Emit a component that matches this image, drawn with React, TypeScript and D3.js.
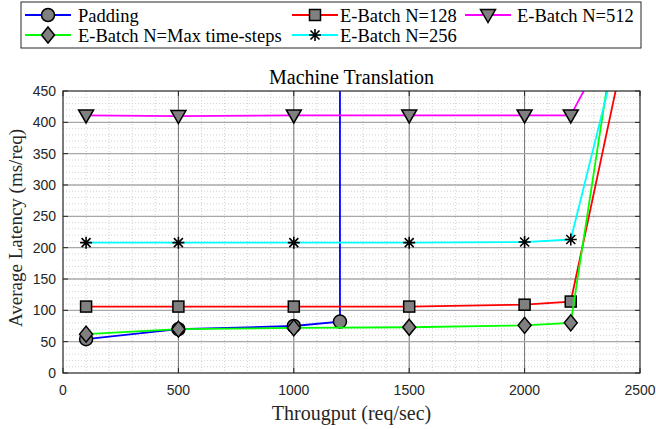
import * as d3 from "d3";

// Throughput (req/sec) sampled for the E-Batch runs; last point is off the top of the axes
const ebatchX = [100, 500, 1000, 1500, 2000, 2200, 2400];
const paddingX = [100, 500, 1000, 1200, 1200];

// Average latency (ms/req)
const paddingY = [54, 70, 75, 82, 700];
const batch128Y = [106, 106, 106, 106, 109, 114, 460];
const batch512Y = [411, 410, 411, 411, 411, 411, 550];
const batchMaxY = [62, 70, 72, 73, 76, 80, 560];
const batch256Y = [208, 208, 208, 208, 209, 213, 510];

const xTicks = [0, 500, 1000, 1500, 2000, 2500];
const yTicks = [0, 50, 100, 150, 200, 250, 300, 350, 400, 450];

type Marker = "circle" | "square" | "triangle" | "diamond" | "star";
interface Series {
  name: string;
  color: string;
  marker: Marker;
  xs: number[];
  ys: number[];
}

// plotting order (also legend order, row-wise)
const series: Series[] = [
  { name: "Padding", color: "#0000ff", marker: "circle", xs: paddingX, ys: paddingY },
  { name: "E-Batch N=128", color: "#ff0000", marker: "square", xs: ebatchX, ys: batch128Y },
  { name: "E-Batch N=512", color: "#ff00ff", marker: "triangle", xs: ebatchX, ys: batch512Y },
  { name: "E-Batch N=Max time-steps", color: "#00ff00", marker: "diamond", xs: ebatchX, ys: batchMaxY },
  { name: "E-Batch N=256", color: "#00ffff", marker: "star", xs: ebatchX, ys: batch256Y },
];

const serif = "'Liberation Serif', 'Times New Roman', serif";
const sans = "'Liberation Sans', Arial, sans-serif";

function MarkerShape({ kind, x, y }: { kind: Marker; x: number; y: number }) {
  const fill = "#808080";
  const st = { stroke: "#000", strokeWidth: 1.5 };
  switch (kind) {
    case "circle":
      return <circle cx={x} cy={y} r={6.5} fill={fill} {...st} />;
    case "square":
      return <rect x={x - 5.5} y={y - 5.5} width={11} height={11} fill={fill} {...st} />;
    case "triangle":
      return <path d={`M${x - 7.5},${y - 5.5}L${x + 7.5},${y - 5.5}L${x},${y + 7.5}Z`} fill={fill} {...st} />;
    case "diamond":
      return <path d={`M${x},${y - 8}L${x + 6.5},${y}L${x},${y + 8}L${x - 6.5},${y}Z`} fill={fill} {...st} />;
    case "star":
      return (
        <path
          d={`M${x - 6},${y}L${x + 6},${y}M${x},${y - 6}L${x},${y + 6}M${x - 4.5},${y - 4.5}L${x + 4.5},${y + 4.5}M${x - 4.5},${y + 4.5}L${x + 4.5},${y - 4.5}`}
          fill="none"
          stroke="#000"
          strokeWidth={1.6}
        />
      );
  }
}

export default function App() {
  const width = 656;
  const height = 429;
  const left = 63, right = 640, top = 91, bottom = 373;

  const x = d3.scaleLinear().domain([0, 2500]).range([left, right]);
  const y = d3.scaleLinear().domain([0, 450]).range([bottom, top]);

  const minorX = d3.range(0, 2501, 100).filter((v) => v % 500 !== 0);
  const minorY = d3.range(0, 451, 10).filter((v) => v % 50 !== 0);

  const line = (s: Series) =>
    d3.line<number>().x((_, i) => x(s.xs[i])).y((v) => y(v))(s.ys) ?? "";

  // legend layout: [series index, line start, text x, row]
  const legendItems: [number, number, number, number][] = [
    [0, 25, 78, 0],
    [1, 292, 340, 0],
    [2, 465, 517, 0],
    [3, 25, 78, 1],
    [4, 292, 340, 1],
  ];
  const rowY = [15, 35];

  return (
    <svg width={width} height={height} style={{ position: "absolute", left: 0, top: 0, background: "#fff" }}>
      <defs>
        <clipPath id="plotClip">
          <rect x={left} y={top} width={right - left} height={bottom - top} />
        </clipPath>
      </defs>

      {/* minor grid */}
      {minorX.map((v) => (
        <line key={"mx" + v} x1={x(v)} x2={x(v)} y1={top} y2={bottom} stroke="#c8c8c8" strokeWidth={0.8} strokeDasharray="1 2" />
      ))}
      {minorY.map((v) => (
        <line key={"my" + v} x1={left} x2={right} y1={y(v)} y2={y(v)} stroke="#c8c8c8" strokeWidth={0.8} strokeDasharray="1 2" />
      ))}
      {/* major grid */}
      {xTicks.slice(1, -1).map((v) => (
        <line key={"gx" + v} x1={x(v)} x2={x(v)} y1={top} y2={bottom} stroke="#707070" strokeWidth={1} />
      ))}
      {yTicks.slice(1, -1).map((v) => (
        <line key={"gy" + v} x1={left} x2={right} y1={y(v)} y2={y(v)} stroke="#a8a8a8" strokeWidth={1.3} />
      ))}

      {/* data */}
      <g clipPath="url(#plotClip)">
        {series.map((s) => (
          <g key={s.name}>
            <path d={line(s)} fill="none" stroke={s.color} strokeWidth={1.8} />
            {s.ys.map((v, i) => (
              <MarkerShape key={i} kind={s.marker} x={x(s.xs[i])} y={y(v)} />
            ))}
          </g>
        ))}
      </g>

      {/* axes box and ticks */}
      <rect x={left} y={top} width={right - left} height={bottom - top} fill="none" stroke="#262626" strokeWidth={1.2} />
      {xTicks.map((v) => (
        <g key={"tx" + v}>
          <line x1={x(v)} x2={x(v)} y1={bottom} y2={bottom - 5} stroke="#262626" />
          <line x1={x(v)} x2={x(v)} y1={top} y2={top + 5} stroke="#262626" />
          <text x={x(v)} y={395} textAnchor="middle" fontFamily={sans} fontSize={14} fill="#262626">
            {v}
          </text>
        </g>
      ))}
      {yTicks.map((v) => (
        <g key={"ty" + v}>
          <line x1={left} x2={left + 5} y1={y(v)} y2={y(v)} stroke="#262626" />
          <line x1={right} x2={right - 5} y1={y(v)} y2={y(v)} stroke="#262626" />
          <text x={56} y={y(v) + 5} textAnchor="end" fontFamily={sans} fontSize={14} fill="#262626">
            {v}
          </text>
        </g>
      ))}

      {/* labels */}
      <text x={(left + right) / 2} y={84} textAnchor="middle" fontFamily={serif} fontSize={20} fill="#000">
        Machine Translation
      </text>
      <text x={(left + right) / 2} y={420} textAnchor="middle" fontFamily={serif} fontSize={20} fill="#262626">
        Througput (req/sec)
      </text>
      <text
        transform={`translate(22,${(top + bottom) / 2 - 4}) rotate(-90)`}
        textAnchor="middle"
        fontFamily={serif}
        fontSize={19}
        fill="#262626"
      >
        Average Latency (ms/req)
      </text>

      {/* legend */}
      <rect x={21} y={2} width={620} height={46} fill="#fff" stroke="#262626" strokeWidth={1} />
      {legendItems.map(([si, lx, tx, row]) => {
        const s = series[si];
        const cy = rowY[row];
        return (
          <g key={"lg" + si}>
            <line x1={lx} x2={lx + 46} y1={cy} y2={cy} stroke={s.color} strokeWidth={1.8} />
            <MarkerShape kind={s.marker} x={lx + 23} y={cy} />
            <text x={tx} y={cy + 6.5} fontFamily={serif} fontSize={18.5} fill="#000">
              {s.name}
            </text>
          </g>
        );
      })}
    </svg>
  );
}
